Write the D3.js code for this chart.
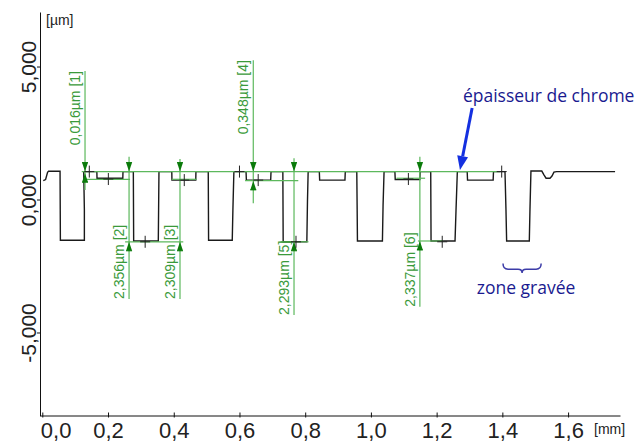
<!DOCTYPE html>
<html><head><meta charset="utf-8">
<script src="https://cdn.jsdelivr.net/npm/d3@7"></script>
<style>body{margin:0;background:#fff}svg{display:block}</style>
</head><body>
<svg id="c" width="635" height="441"></svg>
<script>
// ---- data ----
const profileX = [0.003,0.010,0.016,0.019,0.054,0.055,0.128,0.128,0.126,0.166,0.1665,0.245,0.2455,0.277,0.278,0.353,0.355,0.394,0.3945,0.467,0.4675,0.505,0.506,0.578,0.580,0.583,0.620,0.621,0.695,0.696,0.732,0.733,0.805,0.807,0.809,0.843,0.844,0.921,0.922,0.957,0.958,0.959,1.035,1.037,1.040,1.073,1.074,1.149,1.150,1.182,1.183,1.256,1.259,1.263,1.293,1.294,1.372,1.373,1.408,1.411,1.413,1.482,1.484,1.487,1.520,1.527,1.533,1.545,1.551,1.557,1.565,1.743];
const profileY = [0.71,0.75,1.02,1.06,1.06,-1.53,-1.53,-0.39,1.05,1.05,0.80,0.80,1.05,1.05,-1.56,-1.56,1.05,1.05,0.73,0.73,1.05,1.05,-1.53,-1.53,-0.39,1.05,1.05,0.73,0.73,1.05,1.05,-1.59,-1.59,-0.02,1.05,1.05,0.73,0.73,1.05,1.05,-0.21,-1.56,-1.56,-0.21,1.05,1.05,0.75,0.75,1.05,1.05,-1.56,-1.56,-0.39,1.05,1.05,0.73,0.73,1.05,1.05,-0.39,-1.56,-1.56,-0.39,1.07,1.07,0.92,0.80,0.80,0.88,1.03,1.05,1.05];

const xTickValues = [0,0.2,0.4,0.6,0.8,1.0,1.2,1.4,1.6];
const xTickLabels = ["0,0","0,2","0,4","0,6","0,8","1,0","1,2","1,4","1,6"];
const yTickValues = [-5,0,5];
const yTickLabels = ["-5,000","0,000","5,000"];

// measurements
const measLabels = ["0,016µm [1]","2,356µm [2]","2,309µm [3]","0,348µm [4]","2,293µm [5]","2,337µm [6]"];
const measX      = [0.130,0.264,0.419,0.642,0.766,1.149];
const measTop    = [4.83,1.61,1.52,5.24,1.55,1.61];
const measBottom = [0.36,-3.74,-3.74,-0.14,-4.34,-4.03];
const measUpper  = [1.05,1.05,1.05,1.05,1.05,1.05];
const measLower  = [0.99,-1.59,-1.59,0.70,-1.59,-1.56];
const measLabelTop = [true,false,false,true,false,false];

// reference lines
const refX1 = [0.120,0.124,0.394,0.252,0.617,0.725,1.078,1.143];
const refX2 = [1.393,0.267,0.470,0.429,0.779,0.810,1.165,1.220];
const refY  = [1.05,0.76,0.76,-1.59,0.71,-1.59,0.80,-1.56];

// cursor crosses
const cursorX = [0.143,0.201,0.313,0.432,0.600,0.657,0.772,1.114,1.217,1.398];
const cursorY = [1.05,0.77,-1.59,0.73,1.05,0.73,-1.59,0.77,-1.59,1.05];

// blue notes
const noteTexts = ["épaisseur de chrome","zone gravée"];
const noteX = [1.280,1.322];
const noteY = [3.68,-3.56];
const arrowFrom = [1.308,3.44];
const arrowTo = [1.271,1.11];
const braceX = [1.402,1.518];
const braceY = [-2.41,-2.76];

// ---- chart ----
const svg = d3.select("#c");
const x = d3.scaleLinear().domain([-0.0055,1.758]).range([40.5,620]);
const y = d3.scaleLinear().domain([-8.14,7.05]).range([416,12]);
const axisFont = "'Liberation Sans', Arial, sans-serif";

// x axis
const gx = svg.append("g").attr("transform","translate(0,415.5)")
  .call(d3.axisBottom(x).tickValues(xTickValues).tickFormat((d,i)=>xTickLabels[i]).tickSize(3).tickSizeOuter(0));
gx.select(".domain").attr("stroke","#111");
gx.selectAll(".tick line").attr("y1",-3).attr("y2",2).attr("stroke","#111");
gx.selectAll(".tick text").attr("y",22).attr("dy",0)
  .attr("font-family",axisFont).attr("font-size",22).attr("fill","#222");
gx.selectAll(".tick text").filter((d,i)=>i===0).attr("text-anchor","start").attr("dx",-2);
svg.append("text").attr("x",x(1.758)-26).attr("y",434).text("[mm]")
  .attr("font-family",axisFont).attr("font-size",14).attr("fill","#222");

// y axis
const gy = svg.append("g").attr("transform","translate(40,0)")
  .call(d3.axisLeft(y).tickValues(yTickValues).tickFormat((d,i)=>yTickLabels[i]).tickSize(3).tickSizeOuter(0));
gy.select(".domain").attr("stroke","#111");
gy.selectAll(".tick line").attr("stroke","#111");
gy.selectAll(".tick text").attr("x",0).attr("y",-4).attr("dy",0)
  .attr("transform","rotate(-90)").attr("text-anchor","middle")
  .attr("font-family",axisFont).attr("font-size",21).attr("fill","#222");
svg.append("text").attr("x",46).attr("y",y(7.05)+12.5).text("[µm]")
  .attr("font-family",axisFont).attr("font-size",14).attr("fill","#222");

// profile
const line = d3.line().x(i=>x(profileX[i])).y(i=>y(profileY[i]));
svg.append("path").attr("d",line(d3.range(profileX.length)))
  .attr("fill","none").attr("stroke","#1a1a1a").attr("stroke-width",1.4);

// green reference lines
const green = "#5cb85c";
svg.append("g").selectAll("line").data(refY).join("line")
  .attr("x1",(d,i)=>x(refX1[i])).attr("x2",(d,i)=>x(refX2[i]))
  .attr("y1",d=>y(d)).attr("y2",d=>y(d))
  .attr("stroke",green).attr("stroke-width",1.2);

// measurement verticals, arrows, labels
const gm = svg.append("g");
measX.forEach((mx,i)=>{
  const cx = x(mx);
  gm.append("line").attr("x1",cx).attr("x2",cx).attr("y1",y(measTop[i])).attr("y2",y(measBottom[i]))
    .attr("stroke",green).attr("stroke-width",1.2);
  const tu = y(measUpper[i]), tl = y(measLower[i]);
  gm.append("path").attr("d",`M${cx-3},${tu-9}L${cx+3},${tu-9}L${cx},${tu}Z`).attr("fill","#0a7a0a");
  gm.append("path").attr("d",`M${cx-3},${tl+9}L${cx+3},${tl+9}L${cx},${tl}Z`).attr("fill","#0a7a0a");
  gm.append("line").attr("x1",cx-3).attr("x2",cx+3).attr("y1",tu-9).attr("y2",tu-9).attr("stroke","#0a7a0a");
  gm.append("line").attr("x1",cx-3).attr("x2",cx+3).attr("y1",tl+9).attr("y2",tl+9).attr("stroke","#0a7a0a");
  const ay = measLabelTop[i] ? y(measTop[i]) : y(measBottom[i]);
  gm.append("text").attr("transform",`translate(${cx-5},${ay}) rotate(-90)`)
    .attr("text-anchor", measLabelTop[i] ? "end" : "start")
    .attr("font-family",axisFont).attr("font-size",14).attr("fill","#3a9a3a")
    .text(measLabels[i]);
});

// cursor crosses
svg.append("g").selectAll("path").data(cursorX).join("path")
  .attr("d",(d,i)=>{const cx=x(d), cy=y(cursorY[i]);return `M${cx-5},${cy}H${cx+5}M${cx},${cy-6}V${cy+6}`;})
  .attr("stroke","#222").attr("stroke-width",1);

// blue notes
const blueText = "#1a1a90";
svg.append("g").selectAll("text").data(noteTexts).join("text")
  .attr("x",(d,i)=>x(noteX[i])).attr("y",(d,i)=>y(noteY[i]))
  .attr("font-family","'Open Sans', sans-serif").attr("font-size",17.5).attr("fill",blueText)
  .text(d=>d);

// blue arrow
const ax0=x(arrowFrom[0]), ay0=y(arrowFrom[1]), ax1=x(arrowTo[0]), ay1=y(arrowTo[1]);
const ang = Math.atan2(ay1-ay0, ax1-ax0);
const hl = 14, hw = 5.5;
const bx = ax1 - hl*Math.cos(ang), by = ay1 - hl*Math.sin(ang);
svg.append("line").attr("x1",ax0).attr("y1",ay0).attr("x2",bx).attr("y2",by)
  .attr("stroke","#1430e0").attr("stroke-width",3);
svg.append("path").attr("d",`M${ax1},${ay1}L${bx - hw*Math.sin(ang)},${by + hw*Math.cos(ang)}L${bx + hw*Math.sin(ang)},${by - hw*Math.cos(ang)}Z`)
  .attr("fill","#1430e0");

// brace
const b0=x(braceX[0]), b1=x(braceX[1]), bm=(b0+b1)/2, bt=y(braceY[0]), bb=y(braceY[1]), bmid=(bt+bb)/2+1;
svg.append("path")
  .attr("d",`M${b0},${bt}Q${b0},${bmid} ${b0+5},${bmid}L${bm-4},${bmid}Q${bm},${bmid} ${bm},${bb}Q${bm},${bmid} ${bm+4},${bmid}L${b1-5},${bmid}Q${b1},${bmid} ${b1},${bt}`)
  .attr("fill","none").attr("stroke","#3c3ca8").attr("stroke-width",1.5);
</script>
</body></html>
